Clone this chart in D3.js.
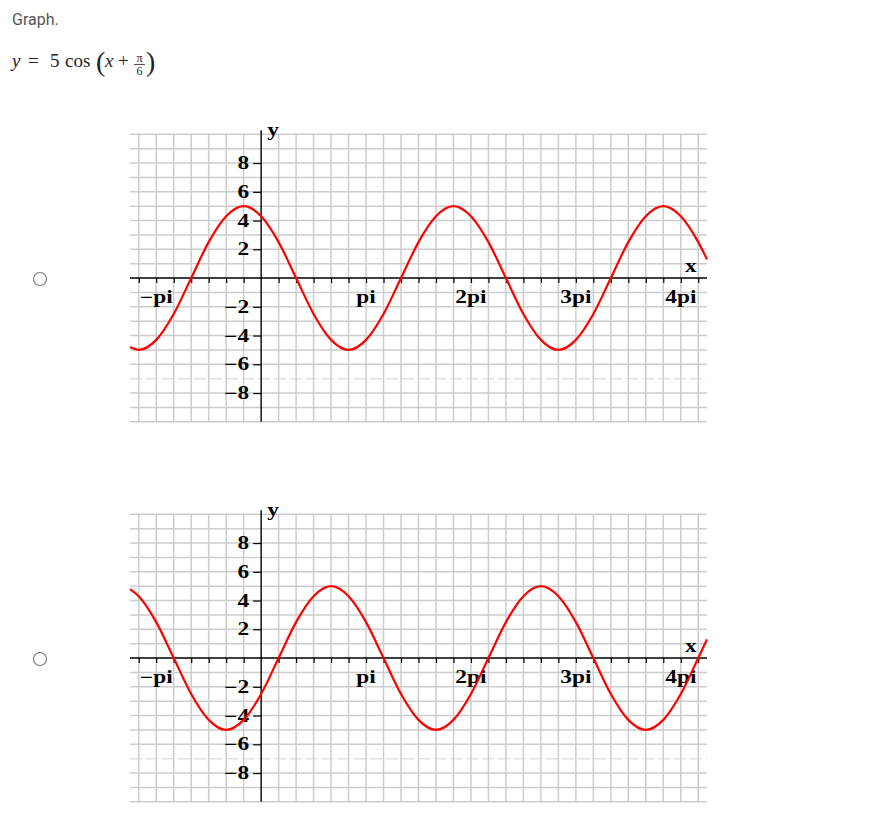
<!DOCTYPE html>
<html>
<head>
<meta charset="utf-8">
<script src="https://cdn.jsdelivr.net/npm/d3@7"></script>
<style>
  body { margin: 0; background: #fff; }
</style>
</head>
<body>
<div id="page"></div>
<script>
(function(){

    // x positions where the curves were read, in sixths of pi (ends at -1.25pi and 4.25pi)
    const xSixths = [-7.5].concat(d3.range(-7, 26), [25.5]);

    // option 1: y at each of those x
    const optionOneY = [-4.8, -5, -4.3, -2.5, 0, 2.5, 4.3, 5, 4.3, 2.5, 0, -2.5, -4.3, -5,
        -4.3, -2.5, 0, 2.5, 4.3, 5, 4.3, 2.5, 0, -2.5, -4.3, -5, -4.3, -2.5, 0, 2.5, 4.3, 5,
        4.3, 2.5, 1.3];

    // option 2: y
    const optionTwoY = [4.8, 4.3, 2.5, 0, -2.5, -4.3, -5, -4.3, -2.5, 0, 2.5, 4.3, 5, 4.3,
        2.5, 0, -2.5, -4.3, -5, -4.3, -2.5, 0, 2.5, 4.3, 5, 4.3, 2.5, 0, -2.5, -4.3, -5,
        -4.3, -2.5, 0, 1.3];

    const xLabelSixths = [-6, 6, 12, 18, 24];
    const xLabels = ["\u2212pi", "pi", "2pi", "3pi", "4pi"];
    const yTickValues = [-8, -6, -4, -2, 2, 4, 6, 8];
    const yTickLabels = ["\u22128", "\u22126", "\u22124", "\u22122", "2", "4", "6", "8"];

    const width = 880, height = 832;
    const sixth = Math.PI / 6;

    const svg = d3.select("#page")
        .append("svg")
        .attr("width", width)
        .attr("height", height);

    svg.append("rect").attr("width", width).attr("height", height).attr("fill", "#fff");

    // heading and the equation
    svg.append("text")
        .attr("x", 12).attr("y", 25)
        .attr("font-family", "Roboto, sans-serif")
        .attr("font-size", 16)
        .attr("fill", "#555")
        .text("Graph.");

    const eq = svg.append("g")
        .attr("font-family", "'Liberation Serif', serif")
        .attr("font-size", 19)
        .attr("fill", "#222");
    eq.append("text").attr("x", 12).attr("y", 67).attr("font-style", "italic").text("y");
    eq.append("text").attr("x", 28).attr("y", 67).text("=");
    eq.append("text").attr("x", 50).attr("y", 67).text("5");
    eq.append("text").attr("x", 65).attr("y", 67).text("cos");
    eq.append("text").attr("x", 96).attr("y", 71).attr("font-size", 28).text("(");
    eq.append("text").attr("x", 105).attr("y", 67).attr("font-style", "italic").text("x");
    eq.append("text").attr("x", 118).attr("y", 67).text("+");
    eq.append("text").attr("x", 139.5).attr("y", 62).attr("font-size", 12)
        .attr("text-anchor", "middle").text("\u03c0");
    eq.append("line").attr("x1", 134).attr("x2", 145).attr("y1", 64.5).attr("y2", 64.5)
        .attr("stroke", "#222").attr("stroke-width", 0.8);
    eq.append("text").attr("x", 139.5).attr("y", 75).attr("font-size", 12)
        .attr("text-anchor", "middle").text("6");
    eq.append("text").attr("x", 146).attr("y", 71).attr("font-size", 28).text(")");

    const x = d3.scaleLinear()
        .domain([-7.5 * sixth, 25.5 * sixth])
        .range([130, 707]);

    // the graph labels are a wide bold serif, so stretch a normal one sideways
    function wideLabel(parent, px, py, anchor, str) {
        return parent.append("text")
            .attr("transform", `translate(${px},${py}) scale(1.3,1)`)
            .attr("text-anchor", anchor)
            .attr("font-family", "'Liberation Serif', serif")
            .attr("font-weight", "bold")
            .attr("font-size", 18)
            .attr("fill", "#000")
            .text(str);
    }

    function drawPanel(top, values) {
        const y = d3.scaleLinear().domain([-10, 10]).range([top + 287.5, top]);
        const g = svg.append("g");

        // radio button to the left
        g.append("circle")
            .attr("cx", 40).attr("cy", y(0) + 1)
            .attr("r", 6.5)
            .attr("fill", "#fff")
            .attr("stroke", "#777")
            .attr("stroke-width", 1.1);

        // grid
        g.append("g").selectAll("line")
            .data(d3.range(-10, 11).filter(d => d !== 0))
            .enter().append("line")
            .attr("x1", 130).attr("x2", 707)
            .attr("y1", d => y(d)).attr("y2", d => y(d))
            .attr("stroke", d => d === -7 ? "#e2e2e2" : "#cdcdcd")
            .attr("stroke-dasharray", d => d === -7 ? "12,4" : null)
            .attr("stroke-width", 1.5);

        g.append("g").selectAll("line")
            .data(d3.range(-7, 26).filter(d => d !== 0))
            .enter().append("line")
            .attr("x1", d => x(d * sixth)).attr("x2", d => x(d * sixth))
            .attr("y1", y(10)).attr("y2", y(-10))
            .attr("stroke", "#cdcdcd")
            .attr("stroke-width", 1.5);

        // axes
        g.append("line")
            .attr("x1", 130).attr("x2", 707)
            .attr("y1", y(0)).attr("y2", y(0))
            .attr("stroke", "#000").attr("stroke-width", 1.4);
        g.append("line")
            .attr("x1", x(0)).attr("x2", x(0))
            .attr("y1", y(10) - 4).attr("y2", y(-10))
            .attr("stroke", "#000").attr("stroke-width", 1.4);

        const xAxis = g.append("g")
            .attr("transform", `translate(0,${y(0)})`)
            .call(d3.axisBottom(x)
                .tickValues(d3.range(-7, 26).filter(d => d !== 0).map(d => d * sixth))
                .tickSize(5)
                .tickSizeOuter(0)
                .tickFormat(""));
        xAxis.select(".domain").remove();
        xAxis.selectAll(".tick line").attr("stroke", "#000").attr("stroke-width", 1.2);

        const yAxis = g.append("g")
            .attr("transform", `translate(${x(0)},0)`)
            .call(d3.axisLeft(y)
                .tickValues(yTickValues)
                .tickSize(8)
                .tickSizeOuter(0)
                .tickFormat(""));
        yAxis.select(".domain").remove();
        yAxis.selectAll(".tick line").attr("stroke", "#000").attr("stroke-width", 1.2);

        yTickValues.forEach((v, i) => {
            wideLabel(g, x(0) - 12, y(v) + 6, "end", yTickLabels[i]);
        });

        // pi labels under the x axis
        xLabelSixths.forEach((s, i) => {
            wideLabel(g, x(s * sixth), y(0) + 24.5, "middle", xLabels[i]);
        });

        wideLabel(g, x(0) + 6, y(10) + 2, "start", "y");
        wideLabel(g, 685, y(0) - 6, "start", "x");

        // the curve
        const line = d3.line()
            .x((d, i) => x(xSixths[i] * sixth))
            .y(d => y(d))
            .curve(d3.curveMonotoneX);

        g.append("path")
            .datum(values)
            .attr("d", line)
            .attr("fill", "none")
            .attr("stroke", "#f00")
            .attr("stroke-width", 2.2);
    }

    drawPanel(134.3, optionOneY);
    drawPanel(514.3, optionTwoY);

})();
</script>
</body>
</html>
